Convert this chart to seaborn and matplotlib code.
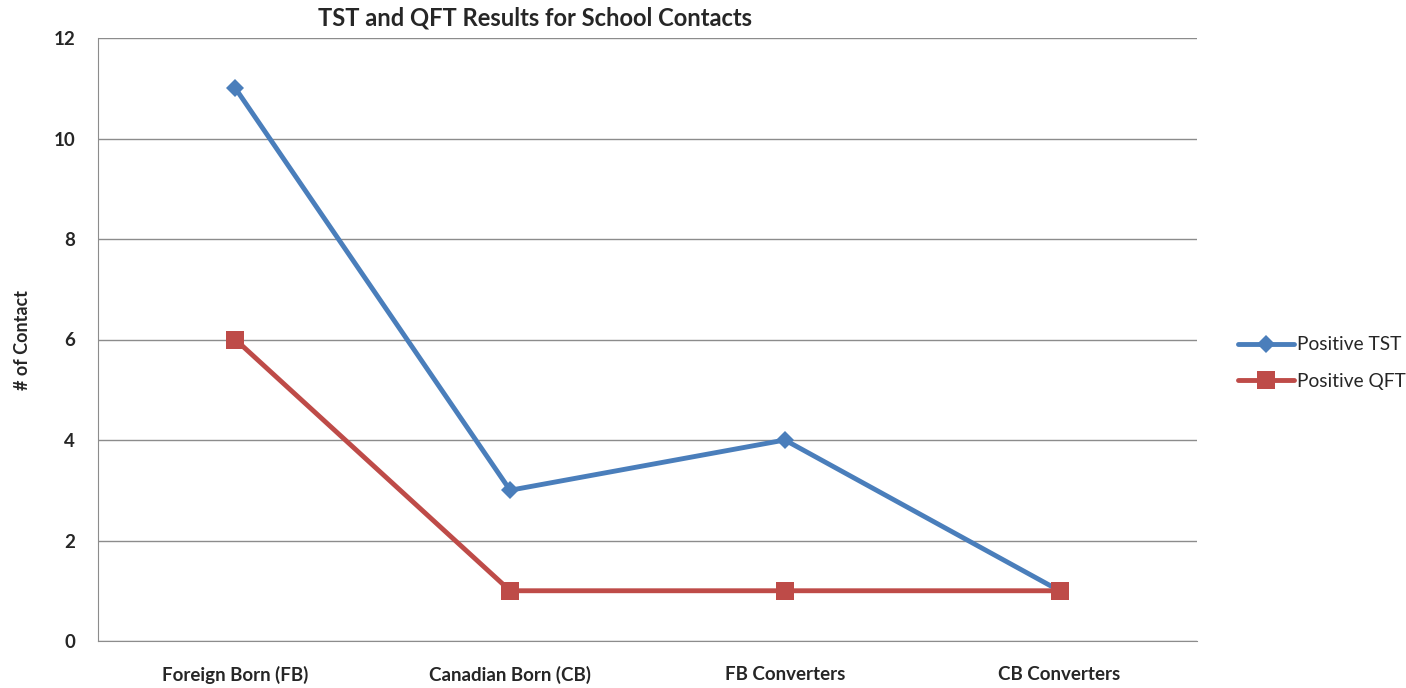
import pandas as pd
import seaborn as sns
import matplotlib.pyplot as plt

categories = ["Foreign Born (FB)", "Canadian Born (CB)", "FB Converters", "CB Converters"]
tst_values = [11, 3, 4, 1]
qft_values = [6, 1, 1, 1]
series_names = ["Positive TST", "Positive QFT"]

df = pd.DataFrame({
    "category": categories * 2,
    "value": tst_values + qft_values,
    "series": [series_names[0]] * 4 + [series_names[1]] * 4,
})

sns.set_style("white")
plt.rcParams["font.family"] = ["Lato", "DejaVu Sans"]

fig = plt.figure(figsize=(14.06, 6.88), dpi=100)
ax = fig.add_axes([98 / 1406, 1 - 641 / 688, (1197 - 98) / 1406, (641 - 38) / 688])

palette = {"Positive TST": "#4A7EBB", "Positive QFT": "#BE4B48"}
markers = {"Positive TST": "D", "Positive QFT": "s"}
sns.lineplot(data=df, x="category", y="value", hue="series", style="series",
             palette=palette, markers=markers, dashes=False, linewidth=3.5,
             markersize=10, markeredgewidth=0, sort=False, ax=ax)
# squares a bit bigger than the diamonds
for line in ax.lines:
    if line.get_marker() == "s":
        line.set_markersize(13)
    elif line.get_marker() == "D":
        line.set_markersize(9)

ax.set_xlim(-0.5, 3.5)
ax.set_ylim(0, 12)
ax.set_yticks(range(0, 13, 2))
ax.yaxis.grid(True, color="#8c8c8c", linewidth=1)
ax.set_axisbelow(True)
for side in ["top", "right"]:
    ax.spines[side].set_visible(False)
for side in ["left", "bottom"]:
    ax.spines[side].set_color("#8c8c8c")
ax.tick_params(length=0, labelsize=13.5)
ax.tick_params(axis="y", pad=16.5)
ax.tick_params(axis="x", pad=18)
for lab in ax.get_xticklabels() + ax.get_yticklabels():
    lab.set_fontweight("bold")
ax.set_xlabel("")
ax.set_ylabel("# of Contact", fontsize=13, fontweight="bold")
ax.yaxis.set_label_coords((31 - 98) / 1099, 0.5)

fig.text(535 / 1406, 1 - 18 / 688, "TST and QFT Results for School Contacts",
         ha="center", va="center", fontsize=17.1, fontweight="bold")

handles, labels = ax.get_legend_handles_labels()
ax.legend(handles, labels, loc="center left",
          bbox_to_anchor=(1238 / 1406, 1 - 363 / 688), bbox_transform=fig.transFigure,
          frameon=False, fontsize=13.8, handlelength=2.9, handletextpad=0.2,
          labelspacing=1.0, borderpad=0, borderaxespad=0)

fig.savefig("out.png", dpi=100)
